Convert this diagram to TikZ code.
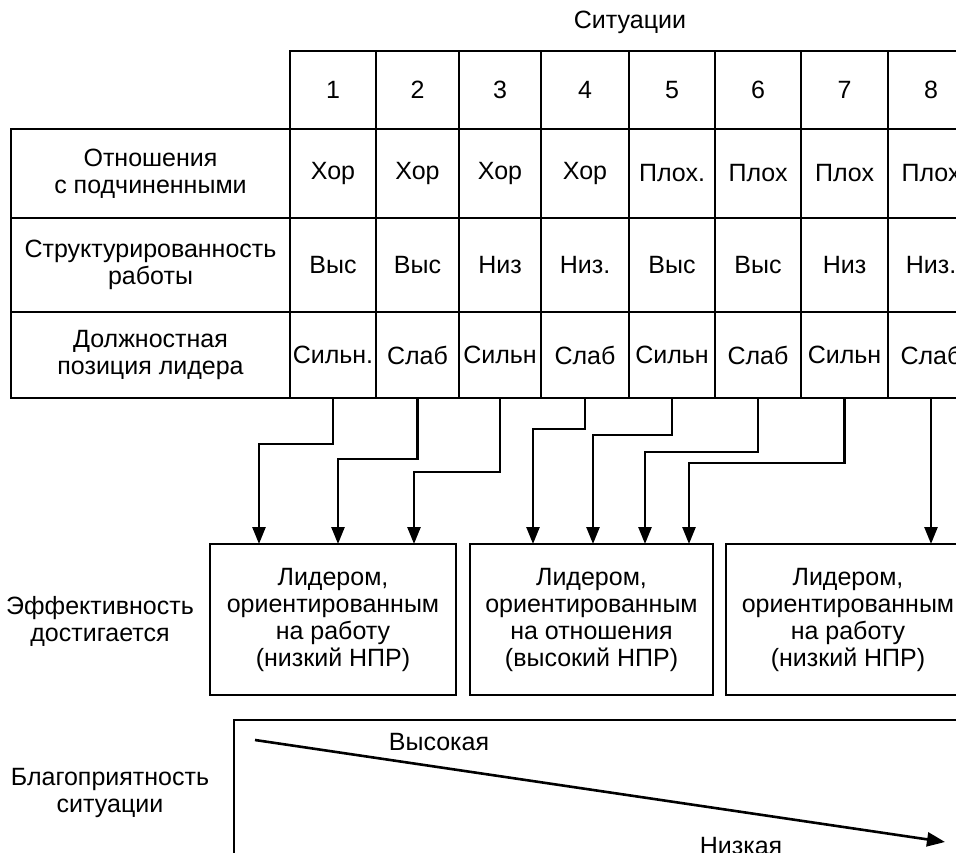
\documentclass[tikz,border=0pt]{standalone}
\usepackage{fontspec}
\setmainfont{Liberation Sans}
\usetikzlibrary{arrows.meta}
\tikzset{
  txt/.style={font=\fontsize{25}{27}\selectfont, align=center, inner sep=0pt},
  cell/.style={txt, draw, line width=2.4pt, inner sep=0pt, outer sep=0pt},
  box/.style={txt, draw, line width=2.6pt, minimum width=#1, minimum height=151pt, outer sep=0pt},
  conn/.style={line width=2.6pt, -{Triangle[length=17pt,width=13pt]}},
  frame/.style={line width=2.4pt}
}
\begin{document}
\begin{tikzpicture}[x=1pt,y=-1pt]
\useasboundingbox (0,0) rectangle (956,853);
\clip (0,0) rectangle (956,853);
% title
\node[txt] (title) at (630,22) {Ситуации};
% row labels
\node[cell, minimum width=279pt, minimum height=89pt] (l1) at (150.5,173.5) {Отношения\\с подчиненными};
\node[cell, minimum width=279pt, minimum height=94pt] (l2) at (150.5,265) {Структурированность\\работы};
\node[cell, minimum width=279pt, minimum height=86pt] (l3) at (150.5,355) {Должностная\\позиция лидера};
% columns
\foreach \i/\L/\R/\n/\a/\b/\c in {
  1/290/376/1/Хор/Выс/Сильн.,
  2/376/459/2/Хор/Выс/Слаб,
  3/459/541/3/Хор/Низ/Сильн,
  4/541/629/4/Хор/Низ./Слаб,
  5/629/715/5/Плох./Выс/Сильн,
  6/715/801/6/Плох/Выс/Слаб,
  7/801/888/7/Плох/Низ/Сильн,
  8/888/974/8/Плох/Низ./Слаб}{
  \pgfmathsetmacro{\w}{\R-\L}
  \pgfmathsetmacro{\m}{(\R+\L)/2}
  \node[cell, minimum width=\w pt, minimum height=78pt] (h\i) at (\m,90) {\n};
  \node[cell, minimum width=\w pt, minimum height=89pt] (a\i) at (\m,173.5) {\a};
  \node[cell, minimum width=\w pt, minimum height=94pt] (b\i) at (\m,265) {\b};
  \node[cell, minimum width=\w pt, minimum height=86pt] (s\i) at (\m,355) {\c};
}
% result boxes
\node[box=246pt] (r1) at (333,619.5) {Лидером,\\ориентированным\\на работу\\(низкий НПР)};
\node[box=243pt] (r2) at (591.5,619.5) {Лидером,\\ориентированным\\на отношения\\(высокий НПР)};
\node[box=244pt] (r3) at (848,619.5) {Лидером,\\ориентированным\\на работу\\(низкий НПР)};
% jog points
\coordinate (j1) at (259,444);
\coordinate (j2) at (338,459);
\coordinate (j3) at (414,472);
\coordinate (j4) at (533,429);
\coordinate (j5) at (593,435);
\coordinate (j6) at (645,452);
\coordinate (j7) at (689,463);
\draw[conn] (s1.south) |- (j1) -- (j1 |- r1.north);
\draw[conn] (s2.south) |- (j2) -- (j2 |- r1.north);
\draw[conn] (s3.south) |- (j3) -- (j3 |- r1.north);
\draw[conn] (s4.south) |- (j4) -- (j4 |- r2.north);
\draw[conn] (s5.south) |- (j5) -- (j5 |- r2.north);
\draw[conn] (s6.south) |- (j6) -- (j6 |- r2.north);
\draw[conn] (s7.south) |- (j7) -- (j7 |- r2.north);
\draw[conn] (s8.south) -- (s8.south |- r3.north);
% left labels
\node[txt] (eff) at (100,621) {Эффективность\\достигается};
\node[txt] (fav) at (110,793) {Благоприятность\\ситуации};
% favourability frame and arrow
\coordinate (fl) at (234,870);
\coordinate (ft) at (234,720);
\coordinate (fr) at (970,720);
\draw[frame] (fl) -- (ft) -- (fr);
\coordinate (hs) at (255,740);
\coordinate (he) at (945,842);
\draw[line width=2.6pt, -{Triangle[length=18pt,width=14pt]}] (hs) -- (he);
\node[txt] (high) at (439,742) {Высокая};
\node[txt] (low) at (741,846) {Низкая};
\end{tikzpicture}
\end{document}
